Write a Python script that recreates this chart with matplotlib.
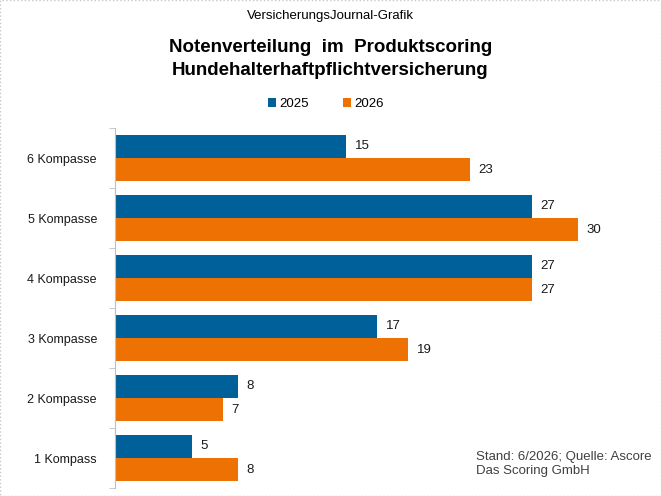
import matplotlib.pyplot as plt
import numpy as np
from matplotlib.patches import Rectangle

plt.rcParams['font.family'] = ['Liberation Sans', 'DejaVu Sans']

categories = ["6 Kompasse", "5 Kompasse", "4 Kompasse", "3 Kompasse", "2 Kompasse", "1 Kompass"]
v2025 = [15, 27, 27, 17, 8, 5]
v2026 = [23, 30, 27, 19, 7, 8]
series = ["2025", "2026"]

blue = "#00609A"
orange = "#EE7203"

fig = plt.figure(figsize=(6.61, 4.96), dpi=100)
ax = fig.add_axes([115 / 661, 8 / 496, 540 / 661, 360 / 496])

y = np.arange(len(categories))
h = 0.39
b1 = ax.barh(y - h / 2, v2025, height=h, color=blue, label=series[0])
b2 = ax.barh(y + h / 2, v2026, height=h, color=orange, label=series[1])

for bars in (b1, b2):
    for r in bars:
        ax.annotate(f"{r.get_width():g}", (r.get_width(), r.get_y() + r.get_height() / 2),
                    xytext=(6, 0), textcoords="offset points", va="center", ha="left",
                    fontsize=9.5, color="#1a1a1a")

ax.set_xlim(0, 35)
ax.set_ylim(len(categories) - 0.5, -0.5)
ax.set_yticks(y)
ax.set_yticklabels(categories, fontsize=9, color="#1a1a1a")
ax.tick_params(axis="y", which="major", length=0, pad=13)
ax.set_yticks(np.arange(-0.5, len(categories)), minor=True)
ax.tick_params(axis="y", which="minor", length=4, color="#bfbfbf", direction="out")
ax.set_xticks([])
for s in ("top", "right", "bottom"):
    ax.spines[s].set_visible(False)
ax.spines["left"].set_color("#bfbfbf")

fig.text(0.5, 1 - 16 / 496, "VersicherungsJournal-Grafik", ha="center", va="center", fontsize=9.5)
fig.text(0.5, 1 - 59 / 496, "Notenverteilung  im  Produktscoring\nHundehalterhaftpflichtversicherung",
         ha="center", va="center", fontsize=13.5, fontweight="bold", linespacing=1.5)

leg = fig.legend(handles=[b1, b2], loc="center", bbox_to_anchor=(0.493, 1 - 104 / 496), ncol=2,
                 frameon=False, fontsize=9.5, handlelength=0.6, handleheight=0.6,
                 handletextpad=0.25, columnspacing=2.6)

fig.text(476 / 661, 1 - 464 / 496, "Stand: 6/2026; Quelle: Ascore\nDas Scoring GmbH",
         ha="left", va="center", fontsize=9.5, color="#404040", linespacing=1.3)

fig.patches.append(Rectangle((0, 0), 1, 1, transform=fig.transFigure, fill=False,
                             edgecolor="#c8c8c8", linewidth=1, linestyle=":"))

fig.savefig("out.png", dpi=100)
